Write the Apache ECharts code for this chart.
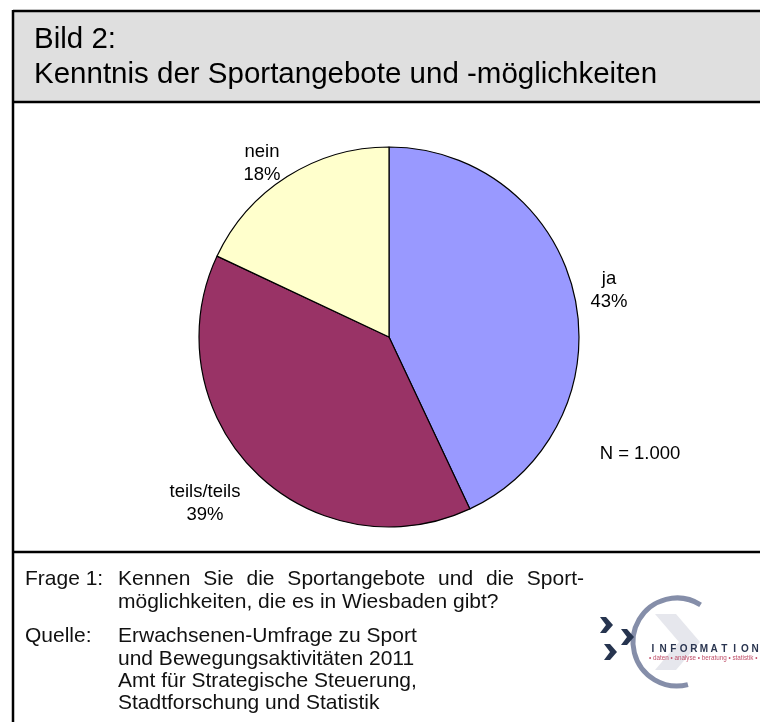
<!DOCTYPE html>
<html>
<head>
<meta charset="utf-8">
<script src="https://cdn.jsdelivr.net/npm/echarts@6/dist/echarts.min.js"></script>
<style>
html,body{margin:0;padding:0;background:#fff;}
#main{width:760px;height:722px;}
</style>
</head>
<body>
<div id="main"></div>
<script>
// daten
var kategorien=["ja","teils/teils","nein"];
var anteile=[43,39,18];
var farben=["#9999ff","#993366","#ffffcc"];
var titel=["Bild 2:","Kenntnis der Sportangebote und -möglichkeiten"];
var hinweis="N = 1.000";

var FONT="'Liberation Sans', Arial, sans-serif";

// label-positionen (px)
var labelPos=[[609,290],[205,503],[262,163]];

var daten=[];
for(var i=0;i<kategorien.length;i++)
{
    daten.push({name:kategorien[i],value:anteile[i],itemStyle:{color:farben[i]}});
}

var grafik=[
    // titelband
    {type:'rect',shape:{x:13,y:11,width:760,height:91},style:{fill:'#dfdfdf'},silent:true},
    {type:'line',shape:{x1:13,y1:11,x2:760,y2:11},style:{stroke:'#000',lineWidth:2.5}},
    {type:'line',shape:{x1:13,y1:102,x2:760,y2:102},style:{stroke:'#000',lineWidth:2.5}},
    {type:'line',shape:{x1:13,y1:552,x2:760,y2:552},style:{stroke:'#000',lineWidth:2.5}},
    {type:'line',shape:{x1:13,y1:10,x2:13,y2:722},style:{stroke:'#000',lineWidth:2.5}}
];
grafik.push({type:'text',x:34,y:40,style:{text:titel[0],font:'29.5px '+FONT,fill:'#000',textVerticalAlign:'middle'}});
grafik.push({type:'text',x:34,y:75,style:{text:titel[1],font:'29.5px '+FONT,fill:'#000',textVerticalAlign:'middle'}});
grafik.push({type:'text',x:640,y:454,style:{text:hinweis,font:'18.5px '+FONT,fill:'#000',textAlign:'center',textVerticalAlign:'middle'}});

// fusszeile
var FUSSFONT='21px '+FONT;
var fuss=[
    [25,579,"Frage 1:"],
    [118,602,"möglichkeiten, die es in Wiesbaden gibt?"],
    [25,636,"Quelle:"],
    [118,636,"Erwachsenen-Umfrage zu Sport"],
    [118,659,"und Bewegungsaktivitäten 2011"],
    [118,681,"Amt für Strategische Steuerung,"],
    [118,703,"Stadtforschung und Statistik"]
];
for(var k=0;k<fuss.length;k++)
{
    grafik.push({type:'text',x:fuss[k][0],y:fuss[k][1],style:{text:fuss[k][2],font:FUSSFONT,fill:'#111',textVerticalAlign:'middle'}});
}

// erste zeile im blocksatz
var ctx=document.createElement('canvas').getContext('2d');
ctx.font=FUSSFONT;
var woerter="Kennen Sie die Sportangebote und die Sport-".split(" ");
var breite=0;
for(var w=0;w<woerter.length;w++) breite+=ctx.measureText(woerter[w]).width;
var luecke=(584-118-breite)/(woerter.length-1);
var xpos=118;
for(var w=0;w<woerter.length;w++)
{
    grafik.push({type:'text',x:xpos,y:579,style:{text:woerter[w],font:FUSSFONT,fill:'#111',textVerticalAlign:'middle'}});
    xpos+=ctx.measureText(woerter[w]).width+luecke;
}

// logo
grafik.push({type:'polygon',shape:{points:[[655,614],[676,614],[700,642],[676,670],[655,670],[679,642]]},style:{fill:'#e6e7ed'}});
grafik.push({type:'arc',shape:{cx:677,cy:642,r:44,startAngle:Math.PI*0.42,endAngle:Math.PI*1.68},style:{stroke:'#858ea9',lineWidth:5,fill:null}});
var pfeile=[[600,617],[621,629],[604,644]];
for(var p=0;p<pfeile.length;p++)
{
    var px=pfeile[p][0],py=pfeile[p][1];
    grafik.push({type:'polygon',shape:{points:[[px,py],[px+6,py],[px+13,py+8],[px+6,py+16],[px,py+16],[px+6,py+8]]},style:{fill:'#26344f'}});
}
var logoText="INFORMATION";
for(var c=0;c<logoText.length;c++)
{
    grafik.push({type:'text',x:653+c*10.2,y:649,style:{text:logoText[c],font:'bold 10px '+FONT,fill:'#2a3550',textAlign:'center',textVerticalAlign:'middle'}});
}
grafik.push({type:'text',x:649,y:658,style:{text:"• daten • analyse • beratung • statistik •",font:'6.3px '+FONT,fill:'#c0506a',textVerticalAlign:'middle'}});

var chart=echarts.init(document.getElementById('main'));
var option={
    backgroundColor:'#fff',
    animation:false,
    graphic:grafik,
    series:[{
        type:'pie',
        center:[389,337],
        radius:190,
        startAngle:90,
        clockwise:true,
        silent:true,
        itemStyle:{borderColor:'#000',borderWidth:1.2},
        label:{
            show:true,
            position:'outside',
            formatter:function(p){return p.name+'\n'+p.value+'%';},
            fontFamily:FONT,
            fontSize:18.5,
            lineHeight:23,
            color:'#000',
            align:'center'
        },
        labelLine:{show:false},
        labelLayout:function(p){
            return {x:labelPos[p.dataIndex][0],y:labelPos[p.dataIndex][1],align:'center',verticalAlign:'middle'};
        },
        data:daten
    }]
};
chart.setOption(option);
</script>
</body>
</html>
